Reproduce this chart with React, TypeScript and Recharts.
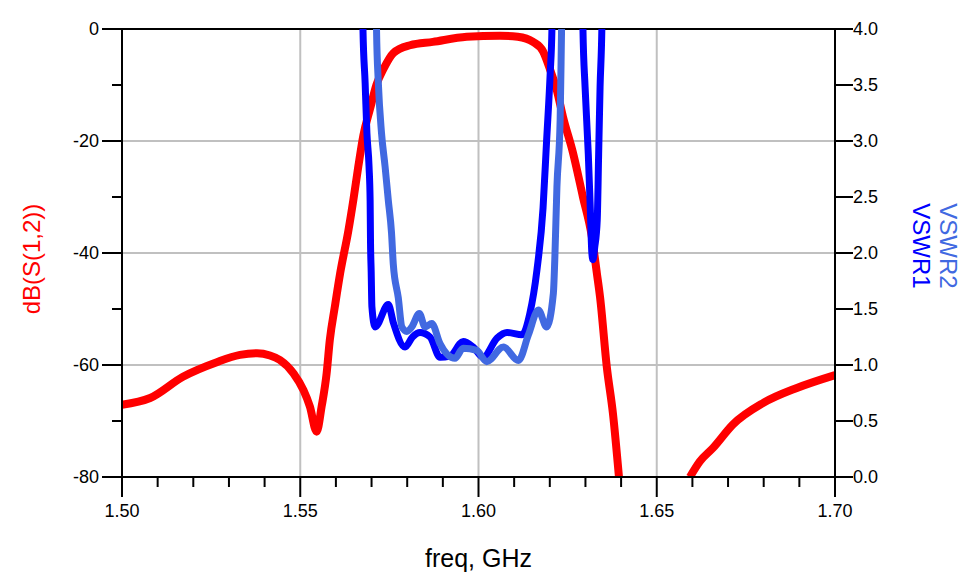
import { LineChart, Line, XAxis, YAxis, ReferenceLine, Label } from "recharts"

// S(1,2) in dB (null = below -80 dB, off the chart)
const s12Freq = [
  1.5, 1.5079, 1.5171, 1.5266, 1.5331, 1.5379, 1.5415, 1.5443, 1.5481, 1.5509, 1.5527, 1.5546, 1.556, 1.5574, 1.5583,
  1.5597, 1.5612, 1.5635, 1.5649, 1.5663, 1.5677, 1.5696, 1.5714, 1.5733, 1.5761, 1.5808, 1.5872, 1.5967, 1.606, 1.611,
  1.6153, 1.6181, 1.6201, 1.622, 1.6237, 1.6265, 1.6293, 1.6318, 1.6332, 1.6341, 1.636, 1.6377, 1.6394, 1.65, 1.6593,
  1.6621, 1.6658, 1.6714, 1.6798, 1.6893, 1.7,
]
const s12Db = [
  -67.1, -65.9, -62.1, -59.5, -58.2, -57.9, -58.3, -59.1, -61.5, -64.5, -67.4, -71.9, -67.4, -61.5, -55.5, -49.6, -43.6,
  -36, -30.5, -24.5, -19, -14.2, -9.9, -7.2, -4.3, -2.9, -2.3, -1.4, -1.2, -1.4, -2.3, -4.0, -7.3, -11.0, -15.7, -22.1,
  -30.0, -37.1, -43.6, -47.9, -60.4, -68.6, -80, null, -80, -77.2, -74.8, -70.6, -66.8, -64.1, -61.8,
]

const vswr1Freq = [
  1.5675, 1.5676, 1.5682, 1.5687, 1.5693, 1.5696, 1.5697, 1.5699, 1.5701, 1.571, 1.5747, 1.5761, 1.5794, 1.5815, 1.5836,
  1.5864, 1.5892, 1.592, 1.5957, 1.5985, 1.6013, 1.6052, 1.608, 1.6122, 1.6144, 1.6164, 1.6181, 1.6191, 1.6201, 1.6206,
  1.6207, 1.625, 1.6292, 1.6293, 1.6299, 1.6308, 1.6313, 1.6318, 1.6321, 1.6326, 1.6333, 1.6337, 1.6341, 1.6346, 1.6347,
]
const vswr1 = [
  4.2, 3.99, 3.52, 3.07, 2.77, 2.47, 2.12, 1.83, 1.52, 1.34, 1.54, 1.38, 1.16, 1.25, 1.29, 1.25, 1.07, 1.08, 1.21, 1.16,
  1.07, 1.24, 1.29, 1.27, 1.46, 1.85, 2.4, 3.0, 3.6, 4.0, 4.2, null, 4.2, 4.0, 3.48, 2.88, 2.45, 2.0, 1.94, 2.05, 2.29,
  2.88, 3.48, 4.0, 4.2,
]

const vswr2Freq = [
  1.5713, 1.5714, 1.5719, 1.5728, 1.5738, 1.5747, 1.5756, 1.5761, 1.5775, 1.5785, 1.5799, 1.5813, 1.5834, 1.585, 1.5869,
  1.5892, 1.5934, 1.5957, 1.5995, 1.6023, 1.607, 1.6112, 1.614, 1.6168, 1.6191, 1.621, 1.6214, 1.622, 1.6229, 1.6233,
  1.6234,
]
const vswr2 = [
  4.2, 3.99, 3.52, 3.07, 2.77, 2.47, 2.18, 1.9, 1.6, 1.34, 1.3, 1.34, 1.46, 1.34, 1.37, 1.19, 1.06, 1.15, 1.13, 1.03,
  1.16, 1.04, 1.27, 1.49, 1.34, 1.64, 1.94, 2.59, 3.19, 4.0, 4.2,
]

const freqTicks = [
  1.5, 1.51, 1.52, 1.53, 1.54, 1.55, 1.56, 1.57, 1.58, 1.59, 1.6, 1.61, 1.62, 1.63, 1.64, 1.65, 1.66, 1.67, 1.68, 1.69, 1.7,
]
const dbTicks = [0, -10, -20, -30, -40, -50, -60, -70, -80]
const vswrTicks = [0, 0.5, 1, 1.5, 2, 2.5, 3, 3.5, 4]
const freqGrid = [1.55, 1.6, 1.65]
const dbGrid = [-20, -40, -60]

const RED = "#ff0000"
const BLUE = "#0000ff"
const ROYAL = "#4169e1"
const GRID = "#c0c0c0"

const toPoints = (xs: number[], ys: (number | null)[]) => xs.map((f, i) => ({ f, v: ys[i] }))

const FreqTick = ({ x, y, payload }: any) => {
  const v = payload.value
  const major = Math.abs(v * 20 - Math.round(v * 20)) < 1e-6
  return (
    <g>
      <line x1={x} x2={x} y1={y} y2={y + (major ? 20 : 10)} stroke="#000" strokeWidth={2} />
      {major && (
        <text x={x} y={y + 40} textAnchor="middle" fontSize={18} fill="#000">
          {v.toFixed(2)}
        </text>
      )}
    </g>
  )
}

const DbTick = ({ x, y, payload }: any) => {
  const v = payload.value
  const major = v % 20 === 0
  return (
    <g>
      <line x1={x - (major ? 20 : 10)} x2={x} y1={y} y2={y} stroke="#000" strokeWidth={2} />
      {major && (
        <text x={x - 23} y={y} dy="0.36em" textAnchor="end" fontSize={18} fill="#000">
          {v}
        </text>
      )}
    </g>
  )
}

const VswrTick = ({ x, y, payload }: any) => (
  <g>
    <line x1={x} x2={x + 18} y1={y} y2={y} stroke="#000" strokeWidth={2} />
    <text x={x + 18} y={y} dy="0.36em" textAnchor="start" fontSize={18} fill="#000">
      {payload.value.toFixed(1)}
    </text>
  </g>
)

export default function App() {
  const s12Data = toPoints(s12Freq, s12Db)
  const vswr1Data = toPoints(vswr1Freq, vswr1)
  const vswr2Data = toPoints(vswr2Freq, vswr2)

  return (
    <div style={{ position: "absolute", left: 0, top: 0, fontFamily: '"Liberation Sans", Arial, sans-serif' }}>
      <LineChart width={976} height={581} margin={{ top: 29, right: 0, bottom: 0, left: 0 }}>
        <XAxis
          dataKey="f"
          type="number"
          domain={[1.5, 1.7]}
          ticks={freqTicks}
          interval={0}
          height={104}
          tickSize={0}
          tickMargin={0}
          tickLine={false}
          axisLine={{ stroke: "#000", strokeWidth: 2 }}
          tick={<FreqTick />}
        >
          <Label
            content={({ viewBox }: any) => (
              <text x={viewBox.x + viewBox.width / 2} y={viewBox.y + 90} textAnchor="middle" fontSize={25} fill="#000">
                freq, GHz
              </text>
            )}
          />
        </XAxis>
        <YAxis
          yAxisId="db"
          type="number"
          domain={[-80, 0]}
          ticks={dbTicks}
          interval={0}
          allowDataOverflow
          width={122}
          tickSize={0}
          tickMargin={0}
          tickLine={false}
          axisLine={{ stroke: "#000", strokeWidth: 2 }}
          tick={<DbTick />}
        >
          <Label
            content={({ viewBox }: any) => {
              const cx = viewBox.x + 40
              const cy = viewBox.y + viewBox.height / 2 + 6
              return (
                <text x={cx} y={cy} transform={`rotate(-90 ${cx} ${cy})`} textAnchor="middle" fontSize={24} fill={RED}>
                  dB(S(1,2))
                </text>
              )
            }}
          />
        </YAxis>
        <YAxis
          yAxisId="vswr"
          orientation="right"
          type="number"
          domain={[0, 4]}
          ticks={vswrTicks}
          interval={0}
          allowDataOverflow
          width={141}
          tickSize={0}
          tickMargin={0}
          tickLine={false}
          axisLine={{ stroke: "#000", strokeWidth: 2 }}
          tick={<VswrTick />}
        >
          <Label
            content={({ viewBox }: any) => {
              const cy = 246
              const x1 = viewBox.x + 78
              const x2 = viewBox.x + 105
              return (
                <g>
                  <text x={x1} y={cy} transform={`rotate(90 ${x1} ${cy})`} textAnchor="middle" fontSize={24} fill={BLUE}>
                    VSWR1
                  </text>
                  <text x={x2} y={cy} transform={`rotate(90 ${x2} ${cy})`} textAnchor="middle" fontSize={24} fill={ROYAL}>
                    VSWR2
                  </text>
                </g>
              )
            }}
          />
        </YAxis>

        {freqGrid.map((f) => (
          <ReferenceLine key={`gx-${f}`} x={f} yAxisId="db" stroke={GRID} strokeWidth={2} />
        ))}
        {dbGrid.map((d) => (
          <ReferenceLine key={`gy-${d}`} y={d} yAxisId="db" stroke={GRID} strokeWidth={2} />
        ))}
        <ReferenceLine y={0} yAxisId="db" stroke="#000" strokeWidth={2} />

        <Line
          yAxisId="db"
          data={s12Data}
          dataKey="v"
          type="monotone"
          stroke={RED}
          strokeWidth={8}
          dot={false}
          isAnimationActive={false}
        />
        <Line
          yAxisId="vswr"
          data={vswr1Data}
          dataKey="v"
          type="monotone"
          stroke={BLUE}
          strokeWidth={7}
          dot={false}
          isAnimationActive={false}
        />
        <Line
          yAxisId="vswr"
          data={vswr2Data}
          dataKey="v"
          type="monotone"
          stroke={ROYAL}
          strokeWidth={7}
          dot={false}
          isAnimationActive={false}
        />
      </LineChart>
    </div>
  )
}
